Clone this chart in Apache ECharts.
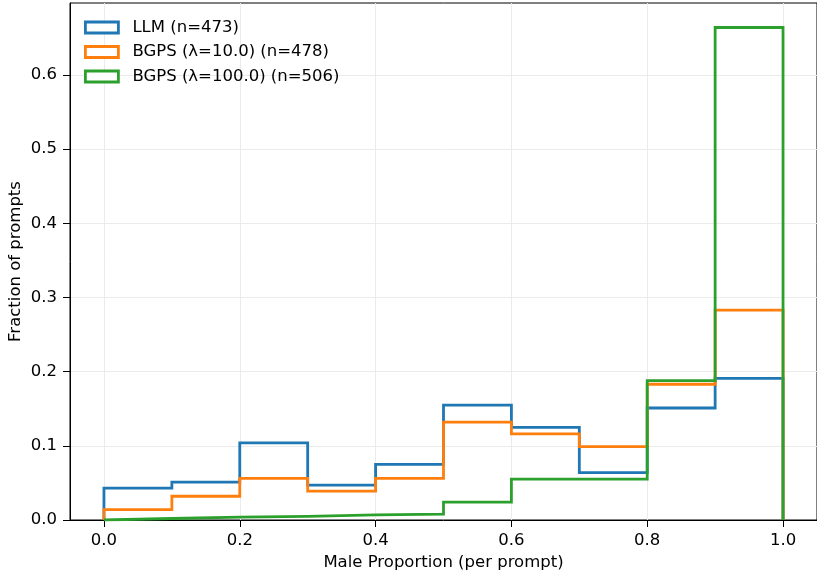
<!DOCTYPE html>
<html>
<head>
<meta charset="utf-8">
<script src="https://cdn.jsdelivr.net/npm/echarts@6/dist/echarts.min.js"></script>
<style>
html,body{margin:0;padding:0;background:#fff;}
#chart{width:817px;height:571px;}
</style>
</head>
<body>
<div id="chart"></div>
<script>
// bin edges of the histogram
var binEdges = [0, 0.1, 0.2, 0.3, 0.4, 0.5, 0.6, 0.7, 0.8, 0.9, 1.0];
var seriesNames = ['LLM (n=473)', 'BGPS (\u03bb=10.0) (n=478)', 'BGPS (\u03bb=100.0) (n=506)'];
var llmFrac = [0.043, 0.051, 0.104, 0.047, 0.075, 0.155, 0.125, 0.064, 0.151, 0.191];
var bgps10Frac = [0.014, 0.032, 0.056, 0.039, 0.056, 0.132, 0.116, 0.099, 0.183, 0.283];
var bgps100Frac = [0.002, 0.004, 0.005, 0.007, 0.008, 0.024, 0.055, 0.055, 0.188, 0.664];
var xTicks = [0, 0.2, 0.4, 0.6, 0.8, 1.0];
var yTicks = [0, 0.1, 0.2, 0.3, 0.4, 0.5, 0.6];
var colors = ['#1f77b4', '#ff7f0e', '#2ca02c'];

// outline of a step histogram
function stepPoints(frac){
	var pts = [[binEdges[0], 0]];
	for(var i=0;i<frac.length;i++){
		pts.push([binEdges[i], frac[i]]);
		pts.push([binEdges[i+1], frac[i]]);
	}
	pts.push([binEdges[binEdges.length-1], 0]);
	return pts;
}

var fnt = 'DejaVu Sans';
var allFrac = [llmFrac, bgps10Frac, bgps100Frac];
var series = [];
var legendData = [];
for(var s=0;s<allFrac.length;s++){
	series.push({
		name: seriesNames[s],
		type: 'line',
		data: stepPoints(allFrac[s]),
		showSymbol: false,
		symbol: 'none',
		animation: false,
		lineStyle: {color: colors[s], width: 2.8, join: 'miter'},
		itemStyle: {color: colors[s]}
	});
	legendData.push({
		name: seriesNames[s],
		icon: 'rect',
		itemStyle: {color: '#fff', borderColor: colors[s], borderWidth: 2.8}
	});
}

var myChart = echarts.init(document.getElementById('chart'));
var option = {
	backgroundColor: '#fff',
	animation: false,
	grid: {
		left: 70,
		right: 0,
		top: 3,
		bottom: 51,
		outerBoundsMode: 'none',
		containLabel: false,
		show: true,
		borderColor: '#000',
		borderWidth: 1
	},
	legend: {
		orient: 'vertical',
		left: 84,
		top: 19,
		padding: 0,
		itemWidth: 33,
		itemHeight: 11,
		itemGap: 7.5,
		textStyle: {fontFamily: fnt, fontSize: 16.5, color: '#000', padding: [0, 0, 0, 9]},
		data: legendData
	},
	xAxis: {
		type: 'value',
		min: -0.05,
		max: 1.05,
		name: 'Male Proportion (per prompt)',
		nameLocation: 'middle',
		nameGap: 34,
		nameMoveOverlap: false,
		nameTextStyle: {fontFamily: fnt, fontSize: 16.5, color: '#000'},
		axisLine: {onZero: false, lineStyle: {color: '#000', width: 1}},
		axisTick: {show: true, length: 7, lineStyle: {color: '#000'}, customValues: xTicks},
		axisLabel: {
			fontFamily: fnt, fontSize: 16.5, color: '#000', margin: 12,
			customValues: xTicks,
			formatter: function(v){ return v.toFixed(1); }
		},
		splitLine: {show: true, lineStyle: {color: '#ebebeb', width: 1}}
	},
	yAxis: {
		type: 'value',
		min: 0,
		max: 0.697,
		name: 'Fraction of prompts',
		nameLocation: 'middle',
		nameGap: 46,
		nameMoveOverlap: false,
		nameTextStyle: {fontFamily: fnt, fontSize: 16.5, color: '#000'},
		axisLine: {show: true, onZero: false, lineStyle: {color: '#000', width: 1}},
		axisTick: {show: true, length: 7, lineStyle: {color: '#000'}, customValues: yTicks},
		axisLabel: {
			fontFamily: fnt, fontSize: 16.5, color: '#000', margin: 13,
			customValues: yTicks,
			formatter: function(v){ return v.toFixed(1); }
		},
		splitLine: {show: true, lineStyle: {color: '#ebebeb', width: 1}}
	},
	series: series
};
myChart.setOption(option);
</script>
</body>
</html>
